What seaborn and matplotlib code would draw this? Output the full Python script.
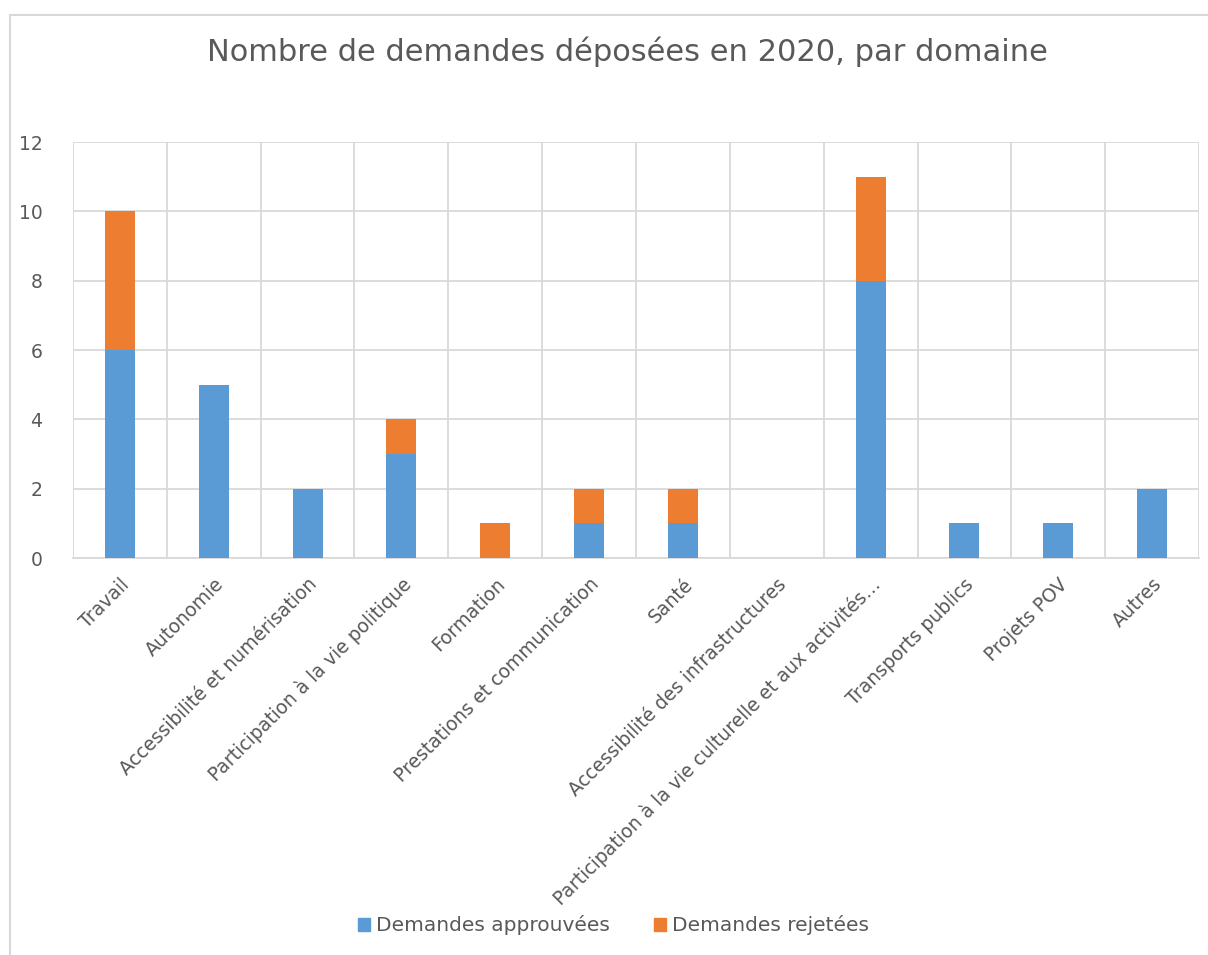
import matplotlib
matplotlib.use("Agg")
import matplotlib.pyplot as plt
import seaborn as sns
import pandas as pd
from matplotlib.patches import Rectangle, Patch
from matplotlib.ticker import FixedLocator

# Données
domaines = [
    "Travail",
    "Autonomie",
    "Accessibilité et numérisation",
    "Participation à la vie politique",
    "Formation",
    "Prestations et communication",
    "Santé",
    "Accessibilité des infrastructures",
    "Participation à la vie culturelle et aux activités…",
    "Transports publics",
    "Projets POV",
    "Autres",
]
approuvees = [6, 5, 2, 3, 0, 1, 1, 0, 8, 1, 1, 2]
rejetees = [4, 0, 0, 1, 1, 1, 1, 0, 3, 0, 0, 0]

BLUE = "#5B9BD5"
ORANGE = "#ED7D31"
GRID = "#D9D9D9"
TEXT = "#595959"

df = pd.DataFrame({
    "domaine": domaines,
    "approuvees": approuvees,
    "rejetees": rejetees,
})
df["total"] = df["approuvees"] + df["rejetees"]

sns.set_style("white")
plt.rcParams["font.family"] = ["DejaVu Sans"]

fig = plt.figure(figsize=(12.08, 9.55), dpi=100)
ax = fig.add_axes([0.0604, 0.4157, 0.9322, 0.4356])

# Empilement : total en orange, puis approuvées en bleu par-dessus
sns.barplot(data=df, x="domaine", y="total", color=ORANGE, width=0.32,
            saturation=1, linewidth=0, ax=ax, zorder=3)
sns.barplot(data=df, x="domaine", y="approuvees", color=BLUE, width=0.32,
            saturation=1, linewidth=0, ax=ax, zorder=3)

ax.set_xlim(-0.5, len(domaines) - 0.5)
ax.set_ylim(0, 12)
ax.set_yticks(range(0, 13, 2))
ax.xaxis.set_minor_locator(FixedLocator([i - 0.5 for i in range(len(domaines) + 1)]))
ax.grid(axis="y", which="major", color=GRID, linewidth=1.3, zorder=0)
ax.grid(axis="x", which="minor", color=GRID, linewidth=1.3, zorder=0)
ax.set_axisbelow(True)
for side in ["top", "right", "left"]:
    ax.spines[side].set_visible(False)
ax.spines["bottom"].set_color(GRID)
ax.spines["bottom"].set_linewidth(1.3)

ax.tick_params(axis="both", which="both", length=0, colors=TEXT, labelsize=13.5)
ax.tick_params(axis="y", pad=22)
ax.tick_params(axis="x", pad=12)
ax.set_xticks(range(len(domaines)))
ax.set_xticklabels(domaines, rotation=45, ha="right", rotation_mode="anchor")
ax.set_xlabel("")
ax.set_ylabel("")

fig.suptitle("Nombre de demandes déposées en 2020, par domaine",
             x=0.519, y=0.962, fontsize=22, color=TEXT)

handles = [Patch(color=BLUE, label="Demandes approuvées"),
           Patch(color=ORANGE, label="Demandes rejetées")]
fig.legend(handles=handles, loc="center", bbox_to_anchor=(0.508, 0.031), ncol=2,
           frameon=False, fontsize=14.5, labelcolor=TEXT, handlelength=0.6,
           handleheight=0.6, columnspacing=2.2, handletextpad=0.3)

# Cadre du graphique
fig.patches.append(Rectangle((10 / 1208, -0.1), 1.2, 1 - 15 / 955 + 0.1,
                             transform=fig.transFigure, fill=False,
                             edgecolor=GRID, linewidth=1.5))

fig.savefig("out.png", dpi=100)
